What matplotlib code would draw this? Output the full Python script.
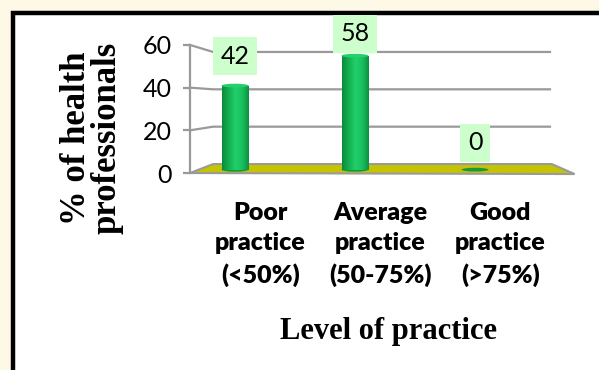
import numpy as np
import matplotlib.pyplot as plt
from matplotlib.patches import Rectangle, Polygon, Ellipse
from matplotlib.colors import LinearSegmentedColormap

categorias = ["Poor\npractice\n(<50%)", "Average\npractice\n(50-75%)", "Good\npractice\n(>75%)"]
valores = [42, 58, 0]
marcas_y = [0, 20, 40, 60]

# Pequeña perspectiva: el eje frontal está más abajo y estirado respecto a la pared del fondo
k_frente, c_frente = 1.143, -4.82
def frente(v):
    return v * k_frente + c_frente

x_frente, x_fondo, x_fin = -0.375, -0.183, 2.625
base = -3  # las barras están a media profundidad

fig = plt.figure(figsize=(5.99, 3.7), dpi=100)
fig.patch.set_facecolor('#fef9e7')
# panel blanco con borde negro
fig.patches.append(Rectangle((12.5 / 599, -0.1), 1.0, 1 - 13.5 / 370 + 0.1, transform=fig.transFigure,
                             facecolor='white', edgecolor='black', linewidth=3.2, zorder=-5))

ax = fig.add_axes([185 / 599, (370 - 176) / 370, 395 / 599, 136 / 370])
ax.set_facecolor('none')
x = np.arange(len(valores))

# suelo amarillo
suelo = Polygon([(x_frente, frente(0)), (x_fondo, 0), (2.64, 0), (2.83, -5.36)], closed=True,
                facecolor='#c6c400', edgecolor='#9a9a9a', linewidth=1.5, zorder=1)
ax.add_patch(suelo)

# líneas de la cuadrícula (pared del fondo)
for v in marcas_y[1:]:
    ax.plot([x_frente, x_fondo, x_fin], [frente(v), v, v], color='#999999', lw=1.6, zorder=0.5,
            solid_joinstyle='miter')

# barras cilíndricas
ancho = 0.225
alturas = [v - base if v > 0 else 0 for v in valores]
barras = ax.bar(x, alturas, width=ancho, bottom=base, color='#14b352', linewidth=0, zorder=3)
verde = LinearSegmentedColormap.from_list('cil', ['#0b8a3c', '#13b050', '#20cf6a', '#1ac060', '#0d9040'])
gradiente = np.linspace(0, 1, 100).reshape(1, -1)
for xi, v, b in zip(x, valores, barras):
    if v > 0:
        im = ax.imshow(gradiente, extent=(xi - ancho / 2, xi + ancho / 2, base, v), cmap=verde,
                       aspect='auto', zorder=3.5)
        im.set_clip_path(b)
        ax.add_patch(Ellipse((xi, base), ancho, 2.2, facecolor='#0e9a44', edgecolor='none', zorder=3.2))
        ax.add_patch(Ellipse((xi, v), ancho, 2.0, facecolor='#22d06c', edgecolor='none', zorder=4))
    else:
        ax.add_patch(Ellipse((xi, base), ancho, 2.0, facecolor='#17983f', edgecolor='none', zorder=4))

# etiquetas de datos
separacion = [13, 7.5, 7]
for xi, v, s in zip(x, valores, separacion):
    ax.annotate(str(v), (xi, max(v, 0)), xytext=(0, s), textcoords='offset points',
                ha='center', va='bottom', fontsize=18, family='Lato', zorder=6,
                bbox=dict(boxstyle='square,pad=0.3', facecolor='#ccffcc', edgecolor='none'),
                annotation_clip=False)

ax.set_xlim(-0.4167, 2.875)
ax.set_ylim(-6.4, 66.4)

ax.set_yticks([frente(v) for v in marcas_y], [str(v) for v in marcas_y])
ax.spines['left'].set_position(('data', x_frente))
ax.spines['left'].set_bounds(frente(0), frente(60))
ax.spines['left'].set_color('#999999')
ax.spines['left'].set_linewidth(1.6)
for lado in ['top', 'right', 'bottom']:
    ax.spines[lado].set_visible(False)
ax.tick_params(axis='y', length=5, width=1.6, color='#999999', labelsize=18, pad=8)
for t in ax.get_yticklabels():
    t.set_family('Lato')

ax.set_xticks(x + 0.21, categorias)
ax.tick_params(axis='x', length=0, pad=19)
for t in ax.get_xticklabels():
    t.set_family('Lato')
    t.set_fontweight('heavy')
    t.set_fontsize(18)
    t.set_linespacing(1.45)

ax.set_xlabel('Level of practice', family='Liberation Serif', fontweight='bold', fontsize=22)
ax.xaxis.set_label_coords(0.514, -1.04)
ax.set_ylabel('% of health\nprofessionals', family='Liberation Serif', fontweight='bold',
              fontsize=25, linespacing=0.92)
ax.yaxis.set_label_coords(-0.155, 0.279)

fig.savefig('out.png', dpi=100, facecolor=fig.get_facecolor())
